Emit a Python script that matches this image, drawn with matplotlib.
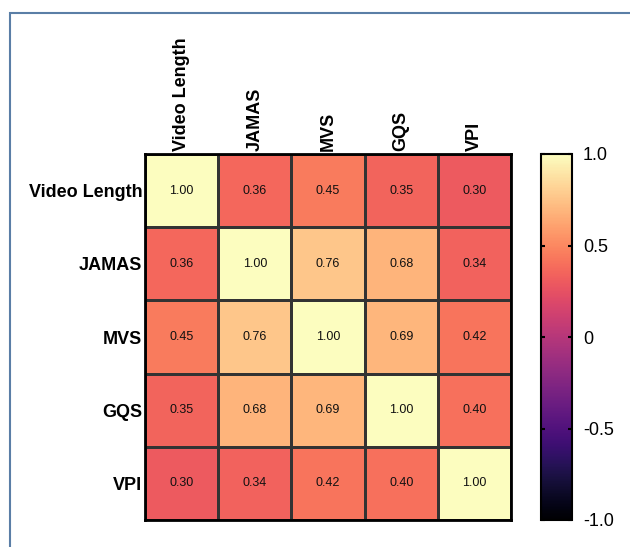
import numpy as np
import matplotlib.pyplot as plt
from matplotlib.patches import Rectangle

plt.rcParams['font.family'] = ['Liberation Sans', 'DejaVu Sans']

labels = ['Video Length', 'JAMAS', 'MVS', 'GQS', 'VPI']
corr = np.array([
    [1.00, 0.36, 0.45, 0.35, 0.30],
    [0.36, 1.00, 0.76, 0.68, 0.34],
    [0.45, 0.76, 1.00, 0.69, 0.42],
    [0.35, 0.68, 0.69, 1.00, 0.40],
    [0.30, 0.34, 0.42, 0.40, 1.00],
])
cbar_ticks = [-1.0, -0.5, 0, 0.5, 1.0]
cbar_labels = ['-1.0', '-0.5', '0', '0.5', '1.0']

W, H = 630, 547
fig = plt.figure(figsize=(W / 100, H / 100), dpi=100)

# frame around the figure (cut off at right and bottom)
fig.patches.append(Rectangle((10 / W, -0.1), 1.2, 1 - 13 / H + 0.1,
                             transform=fig.transFigure, fill=False,
                             edgecolor='#5a7ea6', linewidth=1.5))

ax = fig.add_axes([145 / W, 1 - 520 / H, 366 / W, 366 / H])
n = len(labels)
im = ax.pcolormesh(np.arange(n + 1), np.arange(n + 1), corr, cmap='magma',
                   vmin=-1, vmax=1, edgecolors='#333333', linewidth=1.0)
ax.set_xlim(0, n)
ax.set_ylim(n, 0)
for i in range(n):
    for j in range(n):
        ax.text(j + 0.5, i + 0.5, f'{corr[i, j]:.2f}', ha='center', va='center',
                fontsize=9, color='#111111')

ax.xaxis.tick_top()
ax.set_xticks(np.arange(n) + 0.5)
ax.set_xticklabels(labels, rotation=90, fontsize=13, fontweight='bold')
ax.set_yticks(np.arange(n) + 0.5)
ax.set_yticklabels(labels, fontsize=13, fontweight='bold')
ax.tick_params(length=0, pad=2)
for s in ax.spines.values():
    s.set_linewidth(2)
    s.set_color('black')

cax = fig.add_axes([541 / W, 1 - 520 / H, 31 / W, 366 / H])
cb = fig.colorbar(im, cax=cax)
cb.set_ticks(cbar_ticks)
cb.set_ticklabels(cbar_labels)
cax.yaxis.set_ticks_position('both')
cax.yaxis.set_label_position('right')
cax.tick_params(direction='in', length=3, width=1.5, labelsize=13, pad=8,
                left=True, right=True, labelleft=False, labelright=True)
cb.outline.set_linewidth(1.5)

fig.savefig('out.png', dpi=100)
